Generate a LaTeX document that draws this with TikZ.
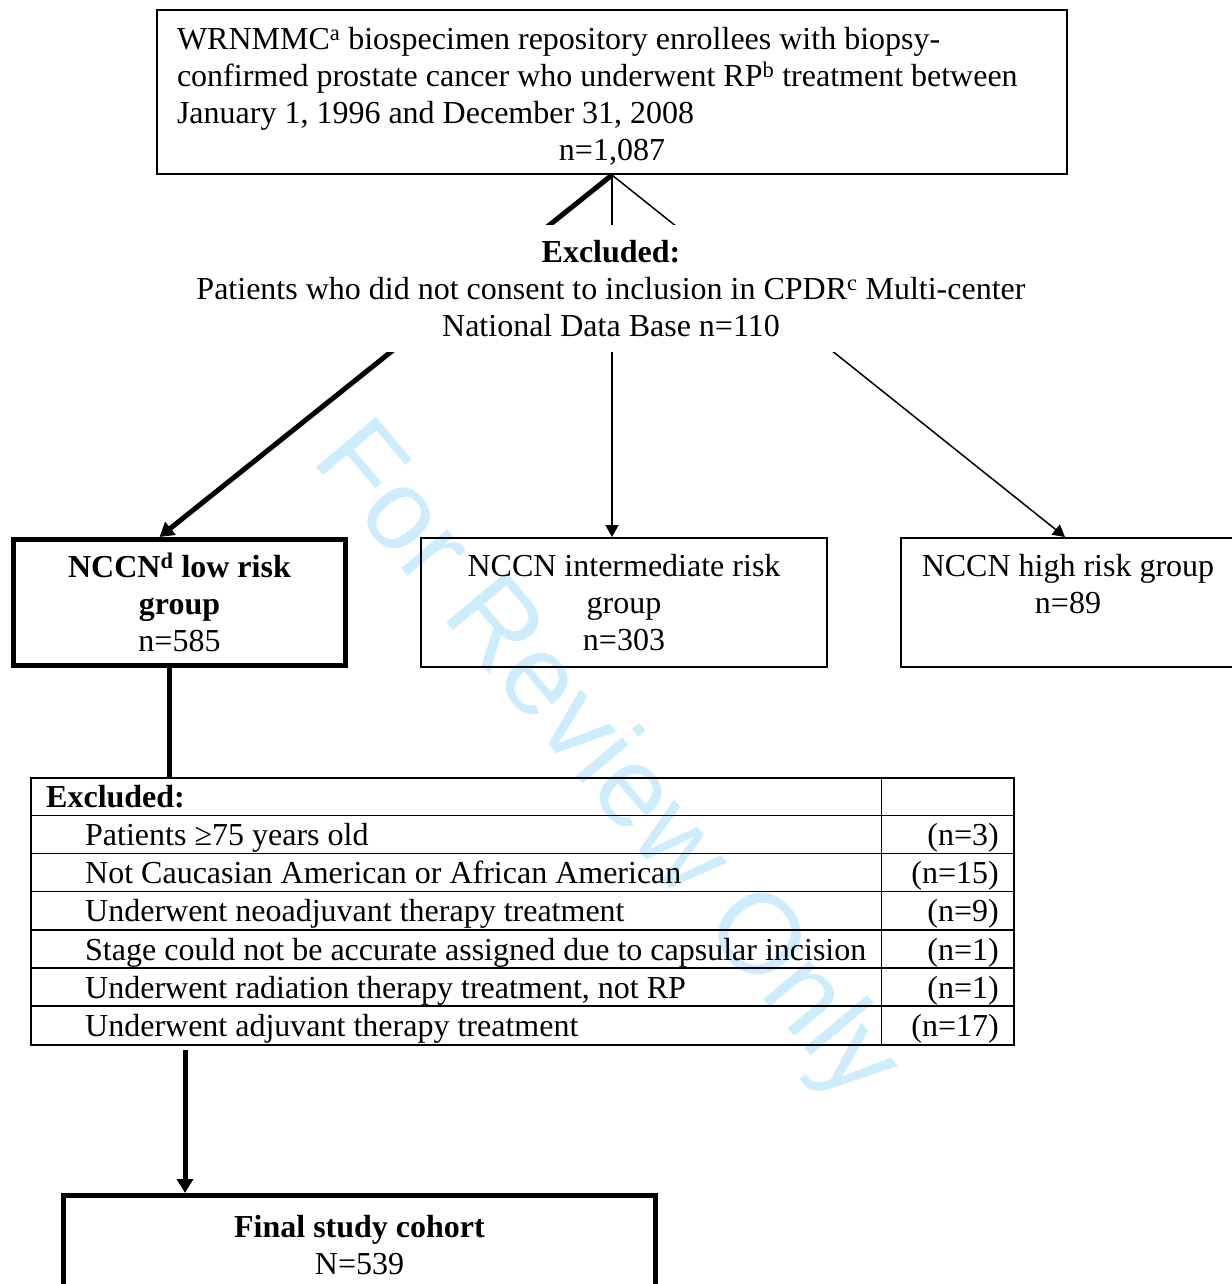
\documentclass[tikz,border=0pt]{standalone}
\usepackage{fontspec}
\setmainfont{Liberation Serif}
\newfontfamily\wmfont{Liberation Sans}
\usetikzlibrary{arrows.meta}
\definecolor{wmblue}{RGB}{205,237,252}
\tikzset{
  txt/.style={font=\fontsize{32}{37}\selectfont},
  thinbox/.style={draw, line width=2pt, inner sep=0pt, txt, align=center},
  thickbox/.style={draw, line width=5pt, inner sep=0pt, txt, align=center},
  thinarrow/.style={line width=1.5pt, -{Triangle[length=12pt,width=13pt]}},
  thickarrow/.style={line width=5pt, -{Triangle[length=14pt,width=16pt]}},
  cell/.style={txt, inner sep=0pt, anchor=base west},
  numcell/.style={txt, inner sep=0pt, anchor=base east},
}
\begin{document}
\begin{tikzpicture}[x=1pt,y=-1pt]
\useasboundingbox (0,0) rectangle (1231,1284);
% watermark
\node[rotate=-50, text=wmblue, inner sep=0pt, font=\wmfont\fontsize{114}{114}\selectfont] (wm) at (604,764) {For Review Only};
% boxes
\node[draw, line width=2pt, inner sep=0pt, txt, minimum width=910, minimum height=164] (top) at (612,92)
  {\raisebox{-4pt}[\height][\depth]{\parbox{870pt}{\raggedright
   WRNMMC\textsuperscript{a} biospecimen repository enrollees with biopsy-\\
   confirmed prostate cancer who underwent RP\textsuperscript{b} treatment between\\
   January 1, 1996 and December 31, 2008\\
   \makebox[\linewidth][c]{n=1,087}}}};
\node[thickbox, minimum width=332, minimum height=126] (low) at (179.5,602.5)
  {\bfseries NCCN\textsuperscript{d} low risk\\ \bfseries group\\ n=585};
\node[thinbox, minimum width=406, minimum height=129] (int) at (624,602.5)
  {NCCN intermediate risk\\ group\\ n=303};
\node[thinbox, minimum width=334, minimum height=129] (high) at (1068,602.5)
  {NCCN high risk group\\ n=89\\ ~};
% table
\node[draw, line width=1.5pt, minimum width=983, minimum height=267, inner sep=0pt] (tab) at (522.5,911.5) {};
\draw[line width=1.5pt] ([xshift=851pt]tab.north west) -- ([xshift=851pt]tab.south west);
\foreach \k in {1,...,6}{
  \draw[line width=1.5pt] ([yshift=-38.14*\k pt]tab.north west) -- ([yshift=-38.14*\k pt]tab.north east);
}
\node[cell] (t0) at (46,807.5) {\bfseries Excluded:};
\node[cell] (t1) at (85,845.6) {Patients ≥75 years old};
\node[cell] (t2) at (85,883.8) {Not Caucasian American or African American};
\node[cell] (t3) at (85,921.9) {Underwent neoadjuvant therapy treatment};
\node[cell] (t4) at (85,960.1) {Stage could not be accurate assigned due to capsular incision};
\node[cell] (t5) at (85,998.2) {Underwent radiation therapy treatment, not RP};
\node[cell] (t6) at (85,1036.4) {Underwent adjuvant therapy treatment};
\node[numcell] (n1) at (999,845.6) {(n=3)};
\node[numcell] (n2) at (999,883.8) {(n=15)};
\node[numcell] (n3) at (999,921.9) {(n=9)};
\node[numcell] (n4) at (999,960.1) {(n=1)};
\node[numcell] (n5) at (999,998.2) {(n=1)};
\node[numcell] (n6) at (999,1036.4) {(n=17)};
% final
\node[thickbox, minimum width=592, minimum height=135] (fin) at (359.5,1263)
  {\bfseries Final study cohort\\ N=539\\ ~};
% connectors
\draw[thickarrow] (top.south) -- ([xshift=-20pt]low.north);
\draw[thinarrow] (top.south) -- (top.south |- int.north);
\draw[thinarrow] (top.south) -- ([xshift=-3pt]high.north);
\draw[line width=5pt] ([xshift=-10.5pt]low.south) -- ([xshift=-10.5pt]low.south |- tab.north);
\coordinate (c1) at (185,1050);
\draw[thickarrow] (c1) -- (c1 |- fin.north);
% excluded note (covers the connectors)
\node[fill=white, txt, align=center, inner xsep=4pt, minimum height=127] (excl) at (611,288.5)
  {\bfseries Excluded:\\ Patients who did not consent to inclusion in CPDR\textsuperscript{c} Multi-center\\ National Data Base n=110};
\end{tikzpicture}
\end{document}
